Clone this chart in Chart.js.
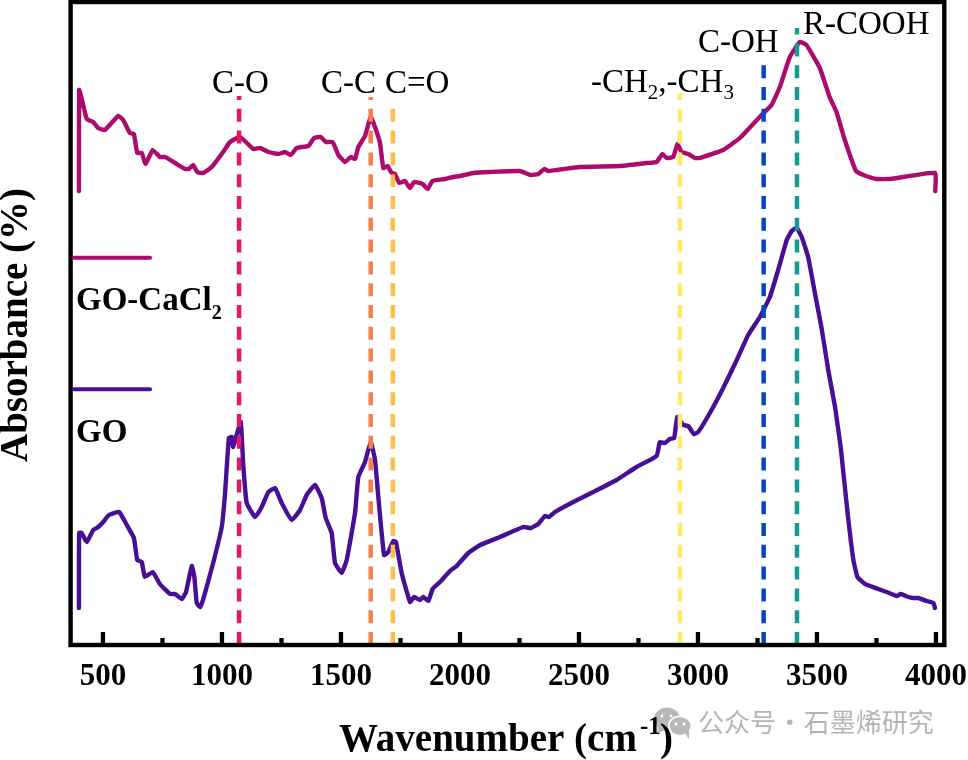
<!DOCTYPE html>
<html><head><meta charset="utf-8">
<style>html,body{margin:0;padding:0;background:#fff;overflow:hidden}canvas{display:block}</style>
<script src="https://cdn.jsdelivr.net/npm/chart.js@4/dist/chart.umd.js"></script>
</head><body><canvas id="c" width="968" height="760"></canvas>
<script>
const goX=[399,400,410,432,459,480,501,525,568,600,630,644,663,676,709,739,782,803,831,849,873,884,894,908,924,963,999,1013,1029,1041,1047,1064,1079,1090,1104,1139,1167,1195,1223,1251,1293,1328,1356,1391,1419,1436,1461,1475,1503,1524,1559,1573,1601,1625,1643,1657,1681,1699,1720,1731,1755,1790,1807,1832,1846,1867,1885,1916,1958,1986,2035,2085,2168,2266,2297,2329,2357,2374,2399,2476,2560,2658,2742,2826,2840,2861,2882,2900,2913,2938,2959,2983,3001,3050,3106,3163,3211,3260,3302,3337,3373,3394,3415,3436,3463,3492,3520,3548,3576,3600,3611,3632,3653,3670,3702,3793,3835,3852,3884,3905,3926,3961,3989,3996];
const goY=[37,112,112,103,115,118,123,130,133,120,107,85,83,68,73,61,51,51,46,53,79,68,42,38,48,82,118,152,207,208,198,212,223,178,142,128,138,153,157,142,125,135,150,160,147,127,112,82,72,85,132,168,183,203,185,148,90,93,104,103,72,43,48,45,48,44,56,63,74,79,92,100,108,118,117,121,129,128,133,143,153,165,178,189,203,202,206,207,228,220,219,211,213,232,257,285,310,328,348,375,405,414,417,408,388,351,316,274,238,197,172,125,85,68,61,53,49,51,48,47,47,44,42,37];
const caX=[399,400,410,432,459,480,508,564,585,613,630,644,663,679,709,739,761,803,845,861,879,896,921,957,1005,1034,1076,1132,1160,1195,1237,1265,1289,1314,1363,1387,1416,1436,1465,1489,1517,1541,1559,1573,1601,1625,1643,1664,1678,1696,1713,1727,1745,1769,1790,1807,1843,1864,1885,1937,1972,2000,2056,2126,2252,2297,2329,2354,2371,2504,2672,2784,2826,2851,2868,2896,2914,2931,2959,2987,3008,3106,3176,3267,3309,3344,3386,3428,3456,3512,3553,3582,3617,3664,3695,3751,3807,3996,3997];
const caY=[454,555,547,526,523,517,515,529,525,512,511,492,492,481,495,488,488,482,476,476,480,473,472,478,493,503,508,496,497,493,491,493,490,497,499,507,508,503,503,490,483,488,486,498,509,528,518,502,477,479,472,471,462,464,457,463,461,456,464,466,468,469,472,473,474,470,471,476,474,478,479,482,483,491,487,488,501,493,491,487,487,495,507,530,540,558,588,603,600,577,548,533,505,474,470,466,466,472,454];
const xTicks=[500,1000,1500,2000,2500,3000,3500,4000];
const minorTicks=[750,1250,1750,2250,2750,3250,3750];
const bandNames=['C-O','C-C','C=O','-CH2,-CH3','C-OH','R-COOH'];
const bandX=[1072,1625,1718,2924,3276,3416];
const bandTop=[549,548,545,552,586,617];
const bandColors=['#EE1262','#F5804F','#FBBE4A','#FFE96B','#0A45C0','#0E9E93'];
const seriesNames=['GO-CaCl2','GO'];
const seriesColors=['#AE0A6E','#470E96'];

const F='"Liberation Serif"';
function txt(ctx,s,x,y,font,col){ctx.font=font;ctx.fillStyle=col||'#000';ctx.textAlign='left';ctx.textBaseline='alphabetic';ctx.fillText(s,x,y);return x+ctx.measureText(s).width;}
const decor={id:'decor',
 afterDatasetsDraw(ch){
  const ctx=ch.ctx,a=ch.chartArea,xs=ch.scales.x;
  ctx.save();
  ctx.strokeStyle='#000';ctx.lineWidth=4.4;ctx.lineCap='butt';
  ctx.strokeRect(a.left,a.top,a.right-a.left,a.bottom-a.top);
  ctx.lineWidth=4.3;
  xTicks.forEach(v=>{const p=xs.getPixelForValue(v);ctx.beginPath();ctx.moveTo(p,a.bottom);ctx.lineTo(p,a.bottom-13);ctx.stroke();});
  minorTicks.forEach(v=>{const p=xs.getPixelForValue(v);ctx.beginPath();ctx.moveTo(p,a.bottom);ctx.lineTo(p,a.bottom-7);ctx.stroke();});
  ctx.lineWidth=4;ctx.lineCap='round';
  [[257.7,0],[389.3,1]].forEach(([y,i])=>{ctx.strokeStyle=seriesColors[i];ctx.beginPath();ctx.moveTo(74,y);ctx.lineTo(150,y);ctx.stroke();});
  const B32='bold 33px '+F,R33='33px '+F,R20='21px '+F;
  let x=txt(ctx,'GO-CaCl',76,310,B32);txt(ctx,'2',x,319,'bold 20px '+F);
  txt(ctx,seriesNames[1],76,441.5,B32);
  txt(ctx,bandNames[0],212,93,R33);
  txt(ctx,bandNames[1],321,93,R33);
  txt(ctx,bandNames[2],385,93,R33);
  x=txt(ctx,'-CH',591,92,R33);x=txt(ctx,'2',x,99,R20);x=txt(ctx,',-CH',x,92,R33);txt(ctx,'3',x,99,R20);
  txt(ctx,bandNames[4],698,52,R33);
  txt(ctx,bandNames[5],803,34,R33);
  ctx.fillStyle='#b9b9b9';
  ctx.beginPath();ctx.ellipse(667,719,13,11.5,0,0,7);ctx.fill();
  ctx.beginPath();ctx.moveTo(658,726);ctx.lineTo(657,734);ctx.lineTo(666,729);ctx.fill();
  ctx.fillStyle='#fff';ctx.beginPath();ctx.ellipse(680,726,12,10.5,0,0,7);ctx.fill();
  ctx.fillStyle='#b9b9b9';ctx.beginPath();ctx.ellipse(680,726,10.5,9,0,0,7);ctx.fill();
  ctx.beginPath();ctx.moveTo(684,732);ctx.lineTo(689,739);ctx.lineTo(689,730);ctx.fill();
  ctx.fillStyle='#fff';[[662,716],[671,716],[676,724],[684,724]].forEach(([u,v])=>{ctx.beginPath();ctx.arc(u,v,1.4,0,7);ctx.fill();});
  ctx.wordSpacing='-5px';
  txt(ctx,'公众号 · 石墨烯研究',698,732,'26px "Noto Sans CJK SC"','#b4b4b4');
  ctx.wordSpacing='0px';
  const B39='bold 39px '+F;
  txt(ctx,'Wavenumber (cm',339,751,B39);
  txt(ctx,'-1',640,734,'bold 25px '+F);
  txt(ctx,')',660,751,B39);
  ctx.translate(27,462);ctx.rotate(-Math.PI/2);
  txt(ctx,'Absorbance (%)',0,0,B39);
  ctx.restore();
 }};

const line=(xa,ya,col,label)=>({label,data:xa.map((x,i)=>({x,y:ya[i]})),borderColor:col,borderWidth:4.4,pointRadius:0,showLine:true,tension:0.12,borderCapStyle:'round',borderJoinStyle:'round',fill:false});
const bands=bandX.map((x,i)=>({label:bandNames[i],data:[{x,y:0},{x,y:bandTop[i]}],borderColor:bandColors[i],borderWidth:4.5,borderDash:[13,8.8],pointRadius:0,showLine:true,borderCapStyle:'butt',order:0}));
const curves=[line(caX,caY,seriesColors[0],seriesNames[0]),line(goX,goY,seriesColors[1],seriesNames[1])];
curves.forEach(c=>c.order=1);
new Chart(document.getElementById('c'),{
 type:'scatter',
 data:{datasets:[...curves,...bands]},
 options:{responsive:false,animation:false,devicePixelRatio:1,
  layout:{autoPadding:false,padding:{left:0,right:23.7,top:2,bottom:55}},
  plugins:{legend:{display:false},tooltip:{enabled:false},title:{display:false}},
  scales:{
   x:{type:'linear',min:364,max:4035,
      grid:{display:false,drawTicks:false},border:{display:false},
      afterBuildTicks(s){s.ticks=xTicks.map(value=>({value}));},
      afterFit(s){s.height=60;s.paddingLeft=0;s.paddingRight=0;},
      ticks:{maxRotation:0,autoSkip:false,padding:13,color:'#000',font:{family:F,weight:'bold',size:31},callback:v=>String(v)}},
   y:{type:'linear',min:0,max:643,display:true,
      grid:{display:false,drawTicks:false},border:{display:false},
      ticks:{display:false},
      afterFit(s){s.width=70.6;}}
  }},
 plugins:[decor]
});
</script></body></html>
